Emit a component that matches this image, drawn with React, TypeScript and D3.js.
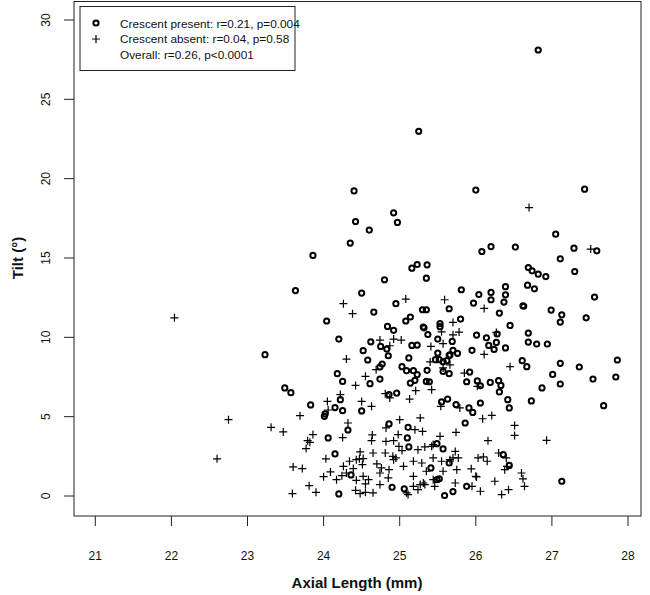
import React from "react";
import * as d3 from "d3";

// Crescent present (circles): [axial length, tilt]
const presentX = [26.82,25.25,24.40,26.00,27.43,24.92,24.42,24.97,24.60,24.35,23.86,25.16,25.23,25.36,24.80,25.35,23.63,24.50,24.95,24.66,24.04,25.14,25.08,25.30,25.35,25.31,25.32,24.84,24.92,25.37,24.20,24.62,24.75,24.83,25.16,25.23,24.52,24.85,24.58,25.12,24.77,24.74,25.03,25.09,25.18,25.23,25.36,24.18,24.25,24.74,27.05,26.08,26.20,26.52,27.29,27.59,27.11,27.30,26.69,26.74,26.82,26.92,26.68,26.77,26.39,26.39,26.20,26.20,26.04,25.81,25.97,26.37,25.65,26.62,26.63,26.31,26.99,27.13,27.11,27.45,27.56,26.45,25.80,25.53,25.53,26.01,26.14,26.28,26.27,26.17,26.24,26.39,26.69,26.69,26.80,26.94,25.50,25.69,25.95,25.76,25.65,25.70,25.50,25.47,25.52,25.57,25.62,25.66,26.61,26.67,27.11,27.36,27.86,27.01,25.92,27.84,27.54,23.49,23.57,24.61,25.14,25.20,25.35,24.86,24.96,23.83,24.15,24.25,24.01,24.02,24.50,24.22,24.86,25.11,24.32,24.06,25.10,25.12,24.15,24.36,24.90,24.20,25.06,25.57,25.65,25.39,25.88,26.02,26.06,26.19,26.30,26.33,26.31,26.42,26.44,26.73,26.87,27.11,27.68,27.13,25.55,25.63,25.74,25.91,25.96,26.06,25.86,25.49,25.57,26.36,26.44,25.65,25.41,25.49,25.52,25.88,25.59,25.70,23.23];
const presentY = [28.11,22.99,19.23,19.28,19.34,17.85,17.30,17.24,16.76,15.94,15.16,14.36,14.59,14.57,13.63,13.73,12.95,12.79,12.12,11.59,11.03,11.28,11.03,11.74,11.74,10.65,10.60,10.69,10.44,10.18,9.89,9.72,9.43,9.26,9.49,9.51,9.16,8.84,8.57,8.70,8.32,8.13,8.15,7.90,7.90,7.65,7.92,7.71,7.22,7.37,16.50,15.41,15.72,15.69,15.62,15.45,14.95,14.15,14.40,14.19,13.98,13.83,13.29,13.06,13.19,12.68,12.83,12.37,12.70,13.00,12.16,12.22,11.80,11.99,11.96,11.53,11.72,11.42,10.96,11.23,12.54,10.75,11.15,10.86,10.67,10.14,9.97,10.21,9.68,9.49,9.24,9.33,10.27,9.70,9.58,9.58,9.89,9.74,9.18,8.99,8.86,9.18,9.01,8.59,8.59,8.46,8.53,8.89,8.53,8.15,8.36,8.13,8.57,7.66,7.81,7.50,7.37,6.81,6.51,7.08,7.12,7.29,7.22,6.39,6.49,5.74,5.57,5.38,5.02,5.17,5.36,6.07,4.54,4.33,4.16,3.66,3.66,3.09,2.65,1.33,0.55,0.13,0.45,7.85,7.71,7.20,7.20,7.25,6.95,7.16,7.27,6.97,6.56,6.07,5.55,5.99,6.81,7.06,5.69,0.93,5.93,6.11,5.76,5.55,5.27,5.86,4.60,3.30,2.97,2.61,1.93,2.08,1.77,1.03,1.08,0.61,0.03,0.28,8.91];

// Crescent absent (crosses): [axial length, tilt]
const absentX = [22.04,25.08,24.26,24.38,24.74,24.92,25.02,24.87,24.30,24.69,24.55,26.70,27.51,25.59,26.11,25.70,25.70,25.78,25.55,25.57,25.41,26.27,26.11,26.45,25.40,25.57,25.66,25.85,22.75,22.60,23.31,23.47,23.69,23.86,23.79,23.77,23.82,23.60,23.72,23.59,23.90,23.81,24.03,24.00,24.09,24.17,24.24,24.30,24.05,24.06,24.22,24.42,24.50,24.63,24.32,24.25,24.64,24.63,24.48,24.65,24.47,24.34,24.43,24.52,24.51,24.26,24.39,24.52,24.43,24.55,24.59,24.42,24.48,24.55,24.65,24.70,24.76,24.74,24.86,24.81,24.91,24.74,24.85,24.82,24.82,24.92,24.98,25.00,25.20,25.30,25.27,24.99,25.03,24.95,24.92,25.05,25.18,25.29,25.24,25.33,25.35,25.18,25.27,25.31,25.18,25.11,25.24,25.21,25.13,24.81,24.87,25.42,25.54,25.79,26.02,26.09,26.21,26.51,26.51,26.93,25.74,25.53,26.16,25.42,25.44,25.73,25.77,25.70,26.03,26.10,26.15,26.30,26.40,26.41,26.38,26.60,26.62,26.64,25.44,25.55,25.66,25.57,25.75,25.94,25.44,25.33,26.00,26.01,25.95,26.06,26.25,26.34,26.43,25.09,25.73,25.46];
const absentY = [11.23,12.41,12.12,11.49,9.83,9.89,9.83,9.47,8.63,7.96,7.54,18.18,15.56,12.37,11.82,10.94,10.16,10.33,10.35,9.60,9.43,10.31,8.92,8.15,8.45,8.07,8.27,7.75,4.81,2.34,4.33,4.04,5.06,3.87,3.49,2.99,3.38,1.83,1.73,0.15,0.23,0.65,2.34,1.22,1.52,1.03,1.28,1.45,5.96,5.42,6.39,6.97,5.96,5.65,4.60,3.68,3.85,3.49,2.78,2.71,2.34,2.19,2.29,2.36,1.98,1.87,1.73,1.24,0.99,0.76,1.03,0.36,0.15,0.23,0.20,2.02,1.77,1.45,1.66,2.71,2.50,0.72,1.14,4.29,3.44,3.49,3.87,4.81,4.18,4.07,4.92,3.13,2.86,2.40,2.29,1.87,2.19,2.08,2.92,3.09,1.56,1.24,0.72,0.82,0.61,0.09,0.40,6.64,6.11,6.45,6.18,6.70,5.65,5.55,6.91,4.87,5.08,4.45,3.82,3.51,4.01,3.76,3.49,3.13,3.24,2.81,2.40,2.40,2.40,2.46,2.19,2.71,2.40,1.87,1.66,1.45,1.08,0.61,2.40,2.19,2.29,1.56,1.66,1.71,1.03,0.72,1.24,1.20,0.61,0.30,0.93,0.09,0.40,0.20,0.82,0.61];

const xTicks = [21, 22, 23, 24, 25, 26, 27, 28];
const yTicks = [0, 5, 10, 15, 20, 25, 30];
const legendLabels = [
  "Crescent present: r=0.21, p=0.004",
  "Crescent absent: r=0.04, p=0.58",
  "Overall: r=0.26, p<0.0001",
];

const FONT = "'Liberation Sans', Arial, Helvetica, sans-serif";

export default function App() {
  const box = { left: 74, right: 641, top: 1.5, bottom: 516 };
  const x = d3.scaleLinear().domain([21, 28]).range([95.3, 628]);
  const y = d3.scaleLinear().domain([0, 30]).range([496, 20]);

  const present = presentX.map((v, i) => [v, presentY[i]]);
  const absent = absentX.map((v, i) => [v, absentY[i]]);
  const cs = 4;

  const crossPath = (cx: number, cy: number) =>
    `M${cx - cs},${cy}H${cx + cs}M${cx},${cy - cs}V${cy + cs}`;

  return (
    <svg
      width={650}
      height={595}
      style={{ position: "absolute", left: 0, top: 0, background: "#fff" }}
      fontFamily={FONT}
    >
      <rect width={650} height={595} fill="#fff" />
      {/* plot box */}
      <rect
        x={box.left}
        y={box.top}
        width={box.right - box.left}
        height={box.bottom - box.top}
        fill="none"
        stroke="#222"
        strokeWidth={1}
      />
      {/* x axis */}
      {xTicks.map((t) => (
        <g key={"xt" + t}>
          <line x1={x(t)} x2={x(t)} y1={box.bottom} y2={box.bottom + 10} stroke="#222" />
          <text x={x(t)} y={560} fontSize={12} textAnchor="middle" fill="#111">
            {t}
          </text>
        </g>
      ))}
      {/* y axis */}
      {yTicks.map((t) => (
        <g key={"yt" + t}>
          <line x1={box.left - 10} x2={box.left} y1={y(t)} y2={y(t)} stroke="#222" />
          <text
            transform={`translate(50,${y(t)}) rotate(-90)`}
            fontSize={12}
            textAnchor="middle"
            fill="#111"
          >
            {t}
          </text>
        </g>
      ))}
      <text x={357} y={588} fontSize={15} fontWeight="bold" textAnchor="middle" fill="#111">
        Axial Length (mm)
      </text>
      <text
        transform={`translate(23,258) rotate(-90)`}
        fontSize={15}
        fontWeight="bold"
        textAnchor="middle"
        fill="#111"
      >
        Tilt (°)
      </text>
      {/* points */}
      {absent.map((d, i) => (
        <path key={"a" + i} d={crossPath(x(d[0]), y(d[1]))} stroke="#000" strokeWidth={1.2} fill="none" />
      ))}
      {present.map((d, i) => (
        <circle key={"p" + i} cx={x(d[0])} cy={y(d[1])} r={2.6} fill="none" stroke="#000" strokeWidth={2} />
      ))}
      {/* legend */}
      <rect x={80} y={6.5} width={215} height={64} fill="#fff" stroke="#222" strokeWidth={1} />
      <circle cx={96} cy={23} r={2.6} fill="none" stroke="#000" strokeWidth={2} />
      <path d={crossPath(96, 39)} stroke="#000" strokeWidth={1.2} fill="none" />
      {legendLabels.map((l, i) => (
        <text key={l} x={120} y={27.5 + i * 15.5} fontSize={11.8} fill="#111">
          {l}
        </text>
      ))}
    </svg>
  );
}
